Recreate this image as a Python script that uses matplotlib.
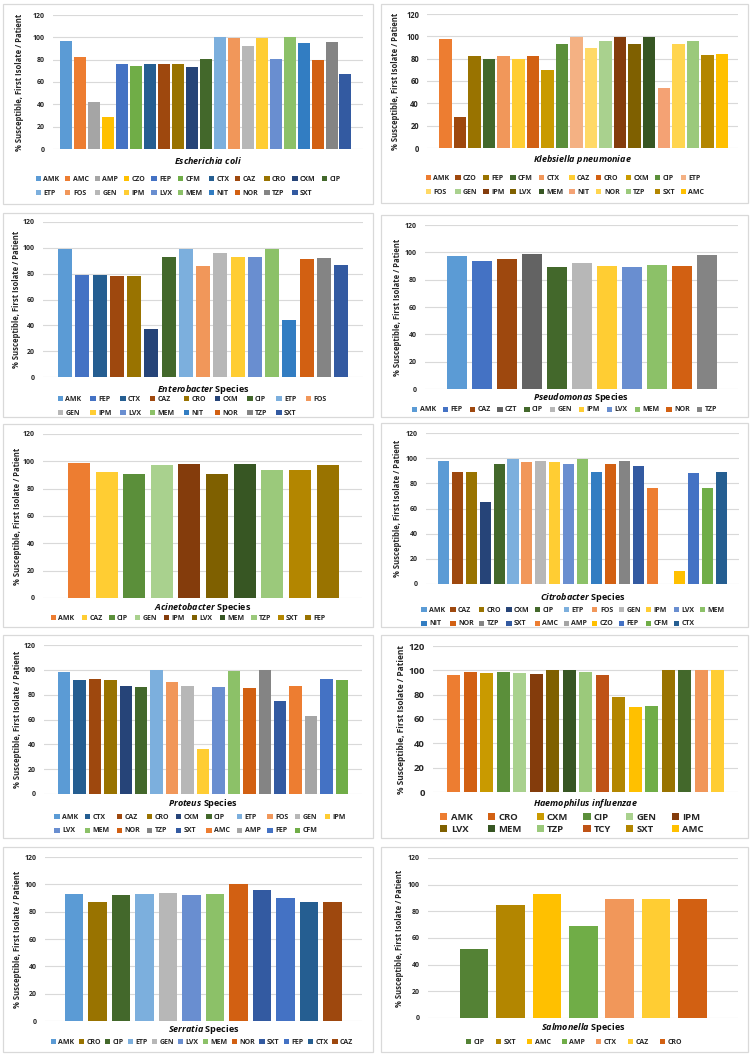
import matplotlib
matplotlib.use("Agg")
import matplotlib.pyplot as plt
from matplotlib.patches import Rectangle, Patch

# ---------------- DATA ----------------
ECOLI_LABELS = ["AMK", "AMC", "AMP", "CZO", "FEP", "CFM", "CTX", "CAZ", "CRO", "CXM", "CIP",
                "ETP", "FOS", "GEN", "IPM", "LVX", "MEM", "NIT", "NOR", "TZP", "SXT"]
ECOLI_VALUES = [97, 82, 42, 29, 76, 74, 76, 76, 76, 73, 81, 100, 99, 92, 99, 81, 100, 95, 80, 96, 67]

KLEB_LABELS = ["AMK", "CZO", "FEP", "CFM", "CTX", "CAZ", "CRO", "CXM", "CIP", "ETP",
               "FOS", "GEN", "IPM", "LVX", "MEM", "NIT", "NOR", "TZP", "SXT", "AMC"]
KLEB_VALUES = [98, 28, 82, 80, 82, 80, 82, 70, 93, 99, 90, 96, 99, 93, 99, 54, 93, 96, 83, 84]

ENTB_LABELS = ["AMK", "FEP", "CTX", "CAZ", "CRO", "CXM", "CIP", "ETP", "FOS",
               "GEN", "IPM", "LVX", "MEM", "NIT", "NOR", "TZP", "SXT"]
ENTB_VALUES = [99, 79, 79, 78, 78, 37, 93, 99, 86, 96, 93, 93, 99, 44, 91, 92, 87]

PSEU_LABELS = ["AMK", "FEP", "CAZ", "CZT", "CIP", "GEN", "IPM", "LVX", "MEM", "NOR", "TZP"]
PSEU_VALUES = [97, 94, 95, 99, 89, 92, 90, 89, 91, 90, 98]

ACIN_LABELS = ["AMK", "CAZ", "CIP", "GEN", "IPM", "LVX", "MEM", "TZP", "SXT", "FEP"]
ACIN_VALUES = [99, 92, 91, 97, 98, 91, 98, 94, 94, 97]

CITR_LABELS = ["AMK", "CAZ", "CRO", "CXM", "CIP", "ETP", "FOS", "GEN", "IPM", "LVX", "MEM",
               "NIT", "NOR", "TZP", "SXT", "AMC", "AMP", "CZO", "FEP", "CFM", "CTX"]
CITR_VALUES = [98, 89, 89, 65, 95, 99, 97, 98, 97, 95, 99, 89, 95, 98, 94, 76, 0, 10, 88, 76, 89]

PROT_LABELS = ["AMK", "CTX", "CAZ", "CRO", "CXM", "CIP", "ETP", "FOS", "GEN", "IPM",
               "LVX", "MEM", "NOR", "TZP", "SXT", "AMC", "AMP", "FEP", "CFM"]
PROT_VALUES = [98, 92, 93, 92, 87, 86, 100, 90, 87, 36, 86, 99, 85, 100, 75, 87, 63, 93, 92]

# last five bars have no visible legend entry in the source
HAEM_LABELS = ["AMK", "CRO", "CXM", "CIP", "GEN", "IPM", "LVX", "MEM", "TZP", "TCY", "SXT", "AMC",
               "", "", "", "", ""]
HAEM_VALUES = [96, 99, 98, 99, 98, 97, 100, 100, 99, 96, 78, 70, 71, 100, 100, 100, 100]

SERR_LABELS = ["AMK", "CRO", "CIP", "ETP", "GEN", "LVX", "MEM", "NOR", "SXT", "FEP", "CTX", "CAZ"]
SERR_VALUES = [93, 87, 92, 93, 94, 92, 93, 100, 96, 90, 87, 87]

SALM_LABELS = ["CIP", "SXT", "AMC", "AMP", "CTX", "CAZ", "CRO"]
SALM_VALUES = [52, 85, 93, 69, 89, 89, 89]

# ---------------- COLOURS ----------------
OFFICE = {"AMK": "#5B9BD5", "AMC": "#ED7D31", "AMP": "#A5A5A5", "CZO": "#FFC000",
          "FEP": "#4472C4", "CFM": "#70AD47", "CTX": "#255E91", "CAZ": "#9E480E",
          "CRO": "#997300", "CXM": "#264478", "CIP": "#43682B", "ETP": "#7CAFDD",
          "FOS": "#F1975A", "GEN": "#B7B7B7", "IPM": "#FFCD33", "LVX": "#698ED0",
          "MEM": "#8CC168", "NIT": "#327DC2", "NOR": "#D26012", "TZP": "#848484",
          "SXT": "#335AA1", "CZT": "#636363"}
KLEB_COLORS = ["#ED7D31", "#9E480E", "#997300", "#43682B", "#F1975A", "#FFCD33", "#D26012",
               "#C99A00", "#5B8F3A", "#F4B183", "#FFD966", "#A9D18E", "#843C0C", "#7F6000",
               "#375623", "#F4A274", "#FFD54F", "#9BC97B", "#B38600", "#FFC000"]
ACIN_COLORS = ["#ED7D31", "#FFCD33", "#5B8F3A", "#A9D18E", "#843C0C", "#7F6000", "#375623",
               "#9BC97B", "#B38600", "#997300"]
HAEM_COLORS = ["#ED7D31", "#D26012", "#C99A00", "#5B8F3A", "#A9D18E", "#843C0C", "#7F6000",
               "#375623", "#9BC97B", "#BF5316", "#B38600", "#FFC000",
               "#70AD47", "#997300", "#43682B", "#F1975A", "#FFCD33"]
SALM_COLORS = ["#548235", "#B38600", "#FFC000", "#70AD47", "#F1975A", "#FFCD33", "#D26012"]

W, H = 750, 1054
plt.rcParams["font.family"] = ["Open Sans", "DejaVu Sans"]
plt.rcParams["mathtext.fontset"] = "custom"
plt.rcParams["mathtext.it"] = "Open Sans:italic:bold"
plt.rcParams["mathtext.rm"] = "Open Sans:bold"
plt.rcParams["mathtext.bf"] = "Open Sans:bold"

fig = plt.figure(figsize=(W / 100, H / 100), dpi=100)
fig.patch.set_facecolor("white")

YLABEL = "% Susceptible, First Isolate / Patient"


def fx(px):
    return px / W


def fy(py):
    return 1 - py / H


def panel(labels, values, colors, box, gl, gr, y120, y0, c0, c1, bw, title, title_y,
          ylab_x, ncol, leg_y, leg_x=None, fs_tick=5.0, fs_leg=5.0, fs_title=6.5, fs_ylab=5.5,
          colspace=1.0, lspacing=1.0):
    # panel frame
    fig.add_artist(Rectangle((fx(box[0]), fy(box[3])), fx(box[2] - box[0]), (box[3] - box[1]) / H,
                             transform=fig.transFigure, facecolor="white",
                             edgecolor="#D9D9D9", lw=0.9, zorder=0))
    ax = fig.add_axes([fx(gl), fy(y0), fx(gr - gl), (y0 - y120) / H])
    ax.set_facecolor("none")
    n = len(values)
    s = (c1 - c0) / (n - 1)
    xs = list(range(n))
    ax.bar(xs, values, width=bw / s, color=colors, zorder=3, linewidth=0)
    ax.set_xlim(-(c0 - gl) / s, (n - 1) + (gr - c1) / s)
    ax.set_ylim(0, 120)
    ax.set_yticks(range(0, 121, 20))
    ax.set_xticks([])
    for sp in ax.spines.values():
        sp.set_visible(False)
    ax.yaxis.grid(True, color="#D9D9D9", lw=0.8, zorder=0)
    ax.set_axisbelow(True)
    ax.tick_params(axis="y", length=0, pad=5.8, labelsize=fs_tick, labelcolor="#262626")
    for t in ax.get_yticklabels():
        t.set_fontweight("bold")
    # title
    fig.text(fx((gl + gr) / 2), fy(title_y), title, ha="center", va="center",
             fontsize=fs_title, fontweight="bold", color="#0D0D0D")
    # y label
    fig.text(fx(ylab_x), fy((y120 + y0) / 2), YLABEL, rotation=90, ha="center", va="center",
             fontsize=fs_ylab, fontweight="bold", color="#262626")
    # legend (row-major order)
    handles = [Patch(facecolor=c, edgecolor="none") for c in colors]
    items = [(h, l) for h, l in zip(handles, labels) if l]
    m = len(items)
    order = []
    for j in range(ncol):
        k = j
        while k < m:
            order.append(k)
            k += ncol
    items = [items[i] for i in order]
    if leg_x is None:
        leg_x = (box[0] + box[2]) / 2
    fig.legend([i[0] for i in items], [i[1] for i in items], loc="center",
               bbox_to_anchor=(fx(leg_x), fy(leg_y)), ncol=ncol,
               frameon=False, prop={"size": fs_leg, "weight": "bold"},
               handlelength=0.75, handleheight=0.75, handletextpad=0.35,
               columnspacing=colspace, labelspacing=lspacing, borderpad=0,
               labelcolor="#262626")
    return ax


# Escherichia coli
panel(ECOLI_LABELS, ECOLI_VALUES, [OFFICE[k] for k in ECOLI_LABELS], (3, 4, 373, 204),
      53, 363, 15, 149, 66, 345.5, 12, r"$\mathit{Escherichia\ coli}$", 161, 20, 11, 186.5,
      colspace=0.85)
# Klebsiella pneumoniae
panel(KLEB_LABELS, KLEB_VALUES, KLEB_COLORS, (381, 4, 748, 203),
      427, 738, 14, 148, 445.5, 722, 12.5, r"$\mathit{Klebsiella\ pneumoniae}$", 160, 396, 10, 185.5,
      leg_x=565, fs_tick=5.5, colspace=0.85)
# Enterobacter
panel(ENTB_LABELS, ENTB_VALUES, [OFFICE[k] for k in ENTB_LABELS], (3, 213, 373, 417),
      43, 363, 222, 377, 65, 341, 14, r"$\mathit{Enterobacter}$ Species", 389, 17, 9, 406.5,
      leg_x=192, colspace=1.3)
# Pseudomonas
panel(PSEU_LABELS, PSEU_VALUES, [OFFICE[k] for k in PSEU_LABELS], (381, 215, 748, 417),
      425, 738, 225, 389, 457, 707, 20, r"$\mathit{Pseudomonas}$ Species", 397, 398, 11, 410)
# Acinetobacter
panel(ACIN_LABELS, ACIN_VALUES, ACIN_COLORS, (3, 424, 373, 627),
      43, 362, 434, 598, 79, 327.5, 22, r"$\mathit{Acinetobacter}$ Species", 608, 18, 10, 618)
# Citrobacter
panel(CITR_LABELS, CITR_VALUES, [OFFICE[k] for k in CITR_LABELS], (381, 423, 748, 627),
      426, 739, 433, 584, 443.5, 721.5, 11, r"$\mathit{Citrobacter}$ Species", 597, 398, 11, 617,
      leg_x=573, colspace=0.75)
# Proteus
panel(PROT_LABELS, PROT_VALUES, [OFFICE[k] for k in PROT_LABELS], (3, 635, 373, 838),
      44, 362, 645, 794, 64, 342, 12.5, r"$\mathit{Proteus}$ Species", 804, 18, 10, 824,
      leg_x=200)
# Haemophilus influenzae
panel(HAEM_LABELS, HAEM_VALUES, HAEM_COLORS, (381, 635, 748, 838),
      433, 738, 646, 792, 453.5, 717.5, 13, r"$\mathit{Haemophilus\ influenzae}$", 804, 402, 6, 823.5,
      leg_x=572, fs_tick=6.8, fs_leg=6.8, fs_ylab=6.0, colspace=1.6, lspacing=0.3)
# Serratia
panel(SERR_LABELS, SERR_VALUES, [OFFICE[k] for k in SERR_LABELS], (3, 847, 373, 1052),
      45, 362, 857, 1021, 74, 332.5, 18.5, r"$\mathit{Serratia}$ Species", 1029, 18, 12, 1042,
      leg_x=202, colspace=0.6)
# Salmonella
panel(SALM_LABELS, SALM_VALUES, SALM_COLORS, (381, 847, 748, 1052),
      428, 738, 858, 1018, 474, 692.5, 28.5, r"$\mathit{Salmonella}$ Species", 1028, 400, 7, 1042,
      leg_x=574, colspace=1.6)

fig.savefig("out.png", dpi=100, facecolor="white")
